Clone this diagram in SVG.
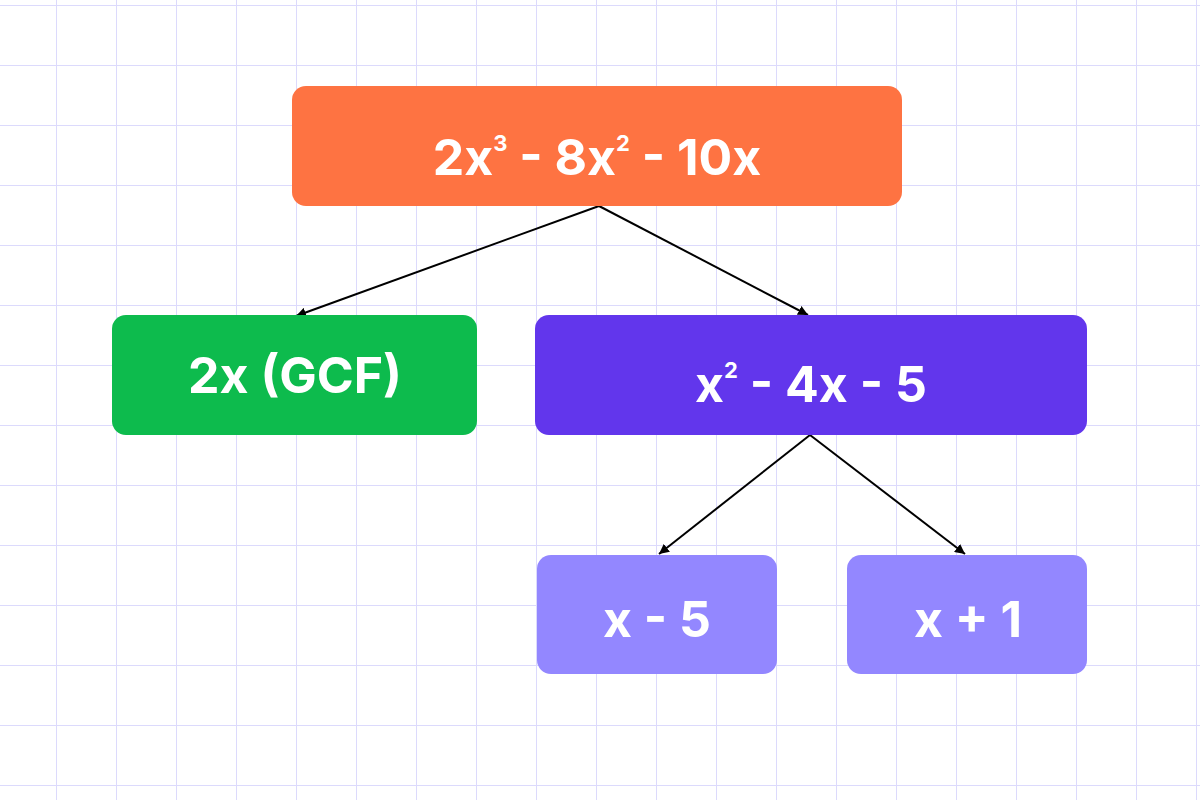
<svg xmlns="http://www.w3.org/2000/svg" width="1200" height="800" viewBox="0 0 1200 800">
<defs>
<pattern id="grid" x="-3" y="-54" width="60" height="60" patternUnits="userSpaceOnUse">
<path d="M60 0V60M0 60H60" stroke="#dcdafc" stroke-width="2" fill="none"/>
</pattern>
<marker id="ah" viewBox="0 0 10 10" refX="10" refY="5" markerWidth="10" markerHeight="10" markerUnits="userSpaceOnUse" orient="auto"><path d="M0 0L10 5L0 10z" fill="#000"/></marker>
<style>
text{font-family:Inter,"Noto Sans",sans-serif;font-weight:700;fill:#fff;text-anchor:middle}
.big{font-size:50px}
.sup{font-size:22px}
.c{stroke:#000;stroke-width:2;fill:none;marker-end:url(#ah)}
</style>
</defs>
<rect width="1200" height="800" fill="#fff"/>
<rect width="1200" height="800" fill="url(#grid)"/>
<g id="connectors">
<path class="c" d="M599 206L296 316"/>
<path class="c" d="M599 206L808 315"/>
<path class="c" d="M810 435L659 554"/>
<path class="c" d="M810 435L965 554"/>
</g>
<g id="n1"><rect x="292" y="86" width="610" height="120" rx="14" fill="#fe7342"/>
<text x="597" y="175" class="big">2x<tspan class="sup" dy="-24">3</tspan><tspan dy="24"> - 8x</tspan><tspan class="sup" dy="-24">2</tspan><tspan dy="24"> - 10x</tspan></text></g>
<g id="n2"><rect x="112" y="315" width="365" height="120" rx="14" fill="#0dbb4d"/>
<text x="295" y="393" class="big">2x (GCF)</text></g>
<g id="n3"><rect x="535" y="315" width="552" height="120" rx="14" fill="#6236ec"/>
<text x="811" y="402" class="big">x<tspan class="sup" dy="-24">2</tspan><tspan dy="24"> - 4x - 5</tspan></text></g>
<g id="n4"><rect x="537" y="555" width="240" height="119" rx="14" fill="#9387ff"/>
<text x="657" y="637" class="big">x - 5</text></g>
<g id="n5"><rect x="847" y="555" width="240" height="119" rx="14" fill="#9387ff"/>
<text x="968" y="637" class="big">x + 1</text></g>
</svg>
